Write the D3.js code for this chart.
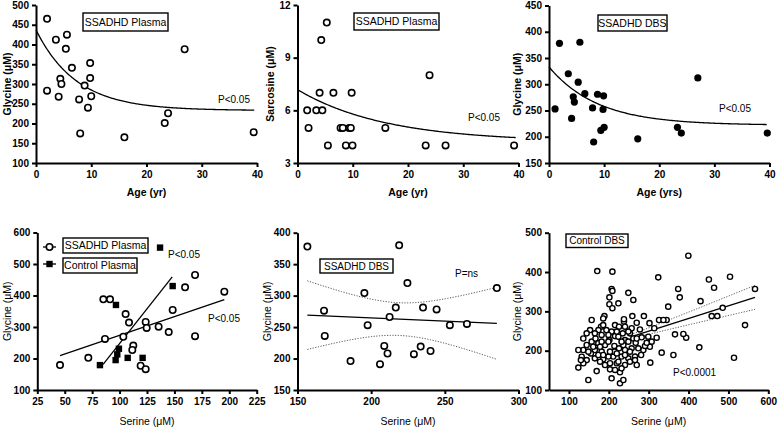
<!DOCTYPE html>
<html><head><meta charset="utf-8">
<script src="https://cdn.jsdelivr.net/npm/d3@7"></script>
<style>
body{margin:0;background:#fff}
svg{display:block}
text{font-family:"Liberation Sans",Arial,sans-serif;fill:#000}
</style></head>
<body><svg id="c" width="778" height="427"></svg>
<script>
// ---------- DATA ----------
// Panel 1: SSADHD Plasma glycine vs age
const p1Age = [2.0,3.6,5.6,5.4,6.5,4.4,4.6,2.0,4.1,7.8,8.0,8.8,9.4,9.8,9.8,10.0,16.0,23.3,23.9,26.9,39.4];
const p1Gly = [465,412,425,389,341,313,300,283,268,261,175,296,240,353,315,269,165,201,226,388,178];
const p1Fit = [233,204,0.137]; // plateau, span, rate

// Panel 2: SSADHD Plasma sarcosine vs age
const p2Age = [5.3,4.3,1.75,2.0,3.4,4.5,4.0,6.5,9.8,5.5,7.8,8.2,9.35,9.65,8.75,9.95,15.9,23.2,23.9,26.8,39.2];
const p2Sar = [11,10,6,5,6,6,7,7,7,4,5,5,5,5,4,4,5,4,8,4,4];
const p2Fit = [4.2,2.98,0.0629];

// Panel 3: SSADHD DBS glycine vs age
const p3Age = [1.1,1.9,3.5,5.6,5.3,6.5,4.4,4.6,4.1,7.9,8.8,9.9,9.8,8.1,9.4,10.0,16.1,23.3,24.0,27.0,39.6];
const p3Gly = [253,378,320,380,304,282,276,266,235,255,281,278,252,190,212,218,196,218,207,312,207];
const p3Fit = [222,111,0.113];

// Panel 4: glycine vs serine, plasma
const p4SerS = [45.7,71.5,86.7,85.2,91.3,105.5,108.6,103.4,112.5,111.6,123.8,124.7,119.2,123.8,135.6,144.8,148.4,159.7,168.8,168.8,195.5];
const p4GlyS = [179,202,262,388,388,341,314,269,241,227,316,297,177,166,301,284,354,426,465,271,412];
const p4SerC = [82.1,96.4,97.9,99.4,96.7,107.4,121,148.4,136.9];
const p4GlyC = [179,195,213,231,370,202,202,430,552];
const p4FitS = [1.19,154.6,45.7,195.5];   // slope, intercept, xmin, xmax
const p4FitC = [4.41,-193.7,85,148];

// Panel 5: SSADHD DBS glycine vs serine
const p5Ser = [156.7,168,168.5,186,195.4,197.6,206,208.9,211.1,212.5,216.7,219,224.6,229,233.6,235.2,240.3,244.4,253.4,265,285.3];
const p5Gly = [378,276,236,196,304,253,191,220,208,266,281,380,320,207,219,281,212,278,253,255,312];
const p5Fit = [-0.101,284.8,156.7,285.3];
const p5Band = [219,26,1141]; // centre x, half-width at centre, spread

// Panel 6: Control DBS glycine vs serine
const p6Ser = [171,209,399.5,324,451,504,464,374,378,430,566.7,349,485.6,458,472,541.6,514,427,366,394,387,362,332.6,304,320,326,345,337,314,302,307.5,303,278,270,288,259,249,261.5,224,207,209,201.5,201.5,209,157,189,186,238,238,169.6,148.7,123.6,228,236.5,207,228,203,270,249,281,220,190.5,182,165,132,136,144.5,136,157,173.7,190.5,201.5,215.6,224,240.6,253,261.5,267.4,257.3,240.6,232,211,199,186,178,165,155,144.5,136,130,153,144.5,180.4,186,215.6,225.6,214,225.6,236.5,214,178,166.6,148.7,123.6,173.7,224,240.6,253,286.6,290.8,295,299,282.4,270,249,232,199,182,161,186,203,220,253,240.6,265.7,203,215.6,232,240.6,257.3,249,235,220,207,194,199,182,174,165,274,265.7];
const p6Gly = [402.5,401,441.5,386.5,381,388,360,357,335.6,326,357,312,309,288,288,265,182,208.5,241.5,233,242.5,189,195,169.5,233,278,278,278,257,270,223,210,254,271,288,288,347,329,320.5,357,352,335.6,318,308,278,288,282,274,280,148,125.4,157,117,125.4,129.7,145,152.5,163.6,180.5,189,168,163.6,197.5,180.5,184.7,201.7,214.4,231,223,219,214.4,227,237,235.6,227,244,231,220,206,201.7,185,185,185,178,172,201.7,193,176,168,176,252.5,244,261,265,265,261,212,206,214.4,197.5,210,231,197.5,201.7,189,172,163.6,172,201.7,212,220,235.6,234,231,223,223,223,223,210,189,197.5,193,197.5,189,185,168,151,155,261,257,248.5,244,248.5,248.5,252.5,240,240,252.5,244,206,176];
const p6Fit = [0.322,153.1,255,566.7];
const p6Band = [230,5.5,3811];

// ---------- DRAW ----------
const svg = d3.select("#c");

function panel(o){
  const x = d3.scaleLinear().domain(o.xd).range([o.px0,o.px1]);
  const y = d3.scaleLinear().domain(o.yd).range([o.py1,o.py0]);
  const g = svg.append("g");
  const ax = g.append("g").attr("transform",`translate(0,${o.py1})`)
    .call(d3.axisBottom(x).tickValues(o.xt).tickSize(4).tickSizeOuter(0).tickPadding(4));
  const ay = g.append("g").attr("transform",`translate(${o.px0},0)`)
    .call(d3.axisLeft(y).tickValues(o.yt).tickSize(4).tickSizeOuter(0).tickPadding(3));
  [ax,ay].forEach(a=>{
    a.select(".domain").attr("stroke","#000").attr("stroke-width",2);
    a.selectAll(".tick line").attr("stroke","#000").attr("stroke-width",2);
    a.selectAll(".tick text").attr("fill","#000").style("font-size","10px").style("font-weight","bold")
      .style("font-family",'"Liberation Sans",Arial,sans-serif');
  });
  g.append("text").attr("x",(o.px0+o.px1)/2).attr("y",o.xtY).attr("text-anchor","middle")
    .style("font-size","10.5px").style("font-weight",o.bold?"bold":"normal").text(o.xtitle);
  g.append("text").attr("transform",`translate(${o.ytX},${(o.py0+o.py1)/2}) rotate(-90)`)
    .attr("text-anchor","middle").style("font-size","10.5px").style("font-weight",o.bold?"bold":"normal").text(o.ytitle);
  return {x,y,g};
}

function box(g,x0,y0,w,h,label,fs){
  g.append("rect").attr("x",x0).attr("y",y0).attr("width",w).attr("height",h)
    .attr("fill","#fff").attr("stroke","#000").attr("stroke-width",1.4);
  g.append("text").attr("x",x0+w/2).attr("y",y0+h/2+fs*0.36).attr("text-anchor","middle")
    .style("font-size",fs+"px").text(label);
}
function ptext(g,x,y,t){
  g.append("text").attr("x",x).attr("y",y).style("font-size","10px").text(t);
}
function openPts(g,sx,sy,xs,ys,r,sw){
  g.selectAll(null).data(xs).enter().append("circle")
    .attr("cx",(d)=>sx(d)).attr("cy",(d,i)=>sy(ys[i])).attr("r",r)
    .attr("fill","#fff").attr("stroke","#000").attr("stroke-width",sw);
}
function expCurve(g,sx,sy,f,x0,x1){
  const line = d3.line().x(d=>sx(d)).y(d=>sy(f[0]+f[1]*Math.exp(-f[2]*d)));
  g.append("path").datum(d3.range(x0,x1+0.001,(x1-x0)/200)).attr("d",line)
    .attr("fill","none").attr("stroke","#000").attr("stroke-width",1.3);
}
function linFit(g,sx,sy,f,sw){
  g.append("path").datum([f[2],f[3]]).attr("d",d3.line().x(d=>sx(d)).y(d=>sy(f[0]*d+f[1])))
    .attr("fill","none").attr("stroke","#000").attr("stroke-width",sw||1.3);
}
function band(g,sx,sy,f,b){
  [1,-1].forEach(s=>{
    const line = d3.line().x(d=>sx(d)).y(d=>sy(f[0]*d+f[1]+s*b[1]*Math.sqrt(1+(d-b[0])*(d-b[0])/b[2])));
    g.append("path").datum(d3.range(f[2],f[3]+0.001,(f[3]-f[2])/100)).attr("d",line)
      .attr("fill","none").attr("stroke","#555").attr("stroke-width",1).attr("stroke-dasharray","1.2,1.5");
  });
}

// Panel 1
{
  const P = panel({xd:[0,40],yd:[100,500],px0:36,px1:257,py0:5,py1:163,
    xt:[0,10,20,30,40],yt:[100,150,200,250,300,350,400,450,500],
    xtitle:"Age (yr)",ytitle:"Glycine (μM)",xtY:196,ytX:11,bold:true});
  expCurve(P.g,P.x,P.y,p1Fit,0,39.5);
  openPts(P.g,P.x,P.y,p1Age,p1Gly,3.2,1.6);
  box(P.g,83,13,85,18,"SSADHD Plasma",10.5);
  ptext(P.g,218,103,"P<0.05");
}
// Panel 2
{
  const P = panel({xd:[0,40],yd:[3,12],px0:297.5,px1:518.5,py0:5,py1:163,
    xt:[0,10,20,30,40],yt:[3,6,9,12],
    xtitle:"Age (yr)",ytitle:"Sarcosine (μM)",xtY:196,ytX:274,bold:true});
  expCurve(P.g,P.x,P.y,p2Fit,0,39.5);
  openPts(P.g,P.x,P.y,p2Age,p2Sar,3.2,1.6);
  box(P.g,354,13,85,17,"SSADHD Plasma",10.5);
  ptext(P.g,468,121,"P<0.05");
}
// Panel 3
{
  const P = panel({xd:[0,40],yd:[150,450],px0:549,px1:769.5,py0:5.5,py1:163,
    xt:[0,10,20,30,40],yt:[150,200,250,300,350,400,450],
    xtitle:"Age (yrs)",ytitle:"Glycine (μM)",xtY:196,ytX:521,bold:true});
  expCurve(P.g,P.x,P.y,p3Fit,0,39.5);
  P.g.selectAll(null).data(p3Age).enter().append("circle")
    .attr("cx",d=>P.x(d)).attr("cy",(d,i)=>P.y(p3Gly[i])).attr("r",3.6).attr("fill","#000");
  box(P.g,598,15,69,16,"SSADHD DBS",10.5);
  ptext(P.g,719,112,"P<0.05");
}
// Panel 4
{
  const P = panel({xd:[25,225],yd:[100,600],px0:37.3,px1:256.7,py0:232.5,py1:390,
    xt:[25,50,75,100,125,150,175,200,225],yt:[100,200,300,400,500,600],
    xtitle:"Serine (μM)",ytitle:"Glycine (μM)",xtY:425,ytX:11,bold:false});
  linFit(P.g,P.x,P.y,p4FitS);
  linFit(P.g,P.x,P.y,p4FitC);
  openPts(P.g,P.x,P.y,p4SerS,p4GlyS,3.2,1.6);
  P.g.selectAll(null).data(p4SerC).enter().append("rect")
    .attr("x",d=>P.x(d)-3.2).attr("y",(d,i)=>P.y(p4GlyC[i])-3.2).attr("width",6.4).attr("height",6.4).attr("fill","#000");
  // legend
  P.g.append("line").attr("x1",43).attr("x2",56).attr("y1",247).attr("y2",247).attr("stroke","#000").attr("stroke-width",1.3);
  P.g.append("circle").attr("cx",49.5).attr("cy",247).attr("r",3.2).attr("fill","#fff").attr("stroke","#000").attr("stroke-width",1.6);
  P.g.append("line").attr("x1",43).attr("x2",56).attr("y1",264).attr("y2",264).attr("stroke","#000").attr("stroke-width",1.3);
  P.g.append("rect").attr("x",46.3).attr("y",260.8).attr("width",6.4).attr("height",6.4).attr("fill","#000");
  box(P.g,63,238,85,15,"SSADHD Plasma",10.5);
  box(P.g,63,258,74,15,"Control Plasma",10.5);
  ptext(P.g,168,258,"P<0.05");
  ptext(P.g,208,322,"P<0.05");
}
// Panel 5
{
  const P = panel({xd:[150,300],yd:[150,400],px0:297.5,px1:518.5,py0:232.7,py1:390,
    xt:[150,200,250,300],yt:[150,200,250,300,350,400],
    xtitle:"Serine (μM)",ytitle:"Glycine (μM)",xtY:425,ytX:271,bold:false});
  band(P.g,P.x,P.y,p5Fit,p5Band);
  linFit(P.g,P.x,P.y,p5Fit);
  openPts(P.g,P.x,P.y,p5Ser,p5Gly,3.2,1.6);
  box(P.g,320,259,73,14,"SSADHD DBS",10);
  ptext(P.g,455,277,"P=ns");
}
// Panel 6
{
  const P = panel({xd:[50,600],yd:[100,500],px0:549,px1:768.3,py0:232.7,py1:390,
    xt:[100,200,300,400,500,600],yt:[100,200,300,400,500],
    xtitle:"Serine (μM)",ytitle:"Glycine (μM)",xtY:425,ytX:521,bold:false});
  band(P.g,P.x,P.y,p6Fit,p6Band);
  linFit(P.g,P.x,P.y,p6Fit);
  openPts(P.g,P.x,P.y,p6Ser,p6Gly,2.6,1.4);
  box(P.g,566,234,62,13.5,"Control DBS",10);
  ptext(P.g,673,376,"P<0.0001");
}
</script></body></html>
